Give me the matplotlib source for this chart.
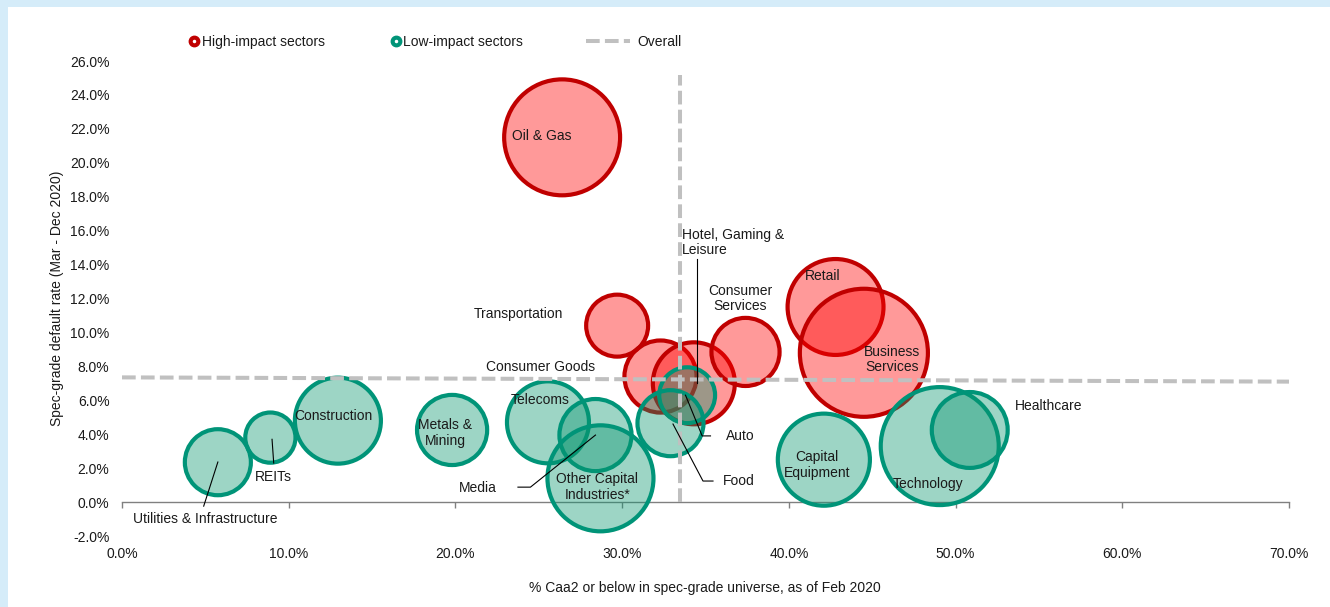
import matplotlib
matplotlib.use('Agg')
import matplotlib.pyplot as plt
from matplotlib.lines import Line2D
from matplotlib.patches import Rectangle
from matplotlib.ticker import FuncFormatter, MultipleLocator

plt.rcParams['font.family'] = ['Liberation Sans', 'DejaVu Sans']

# ---------------- data ----------------
high_sectors = ["Oil & Gas", "Transportation", "Consumer Goods", "Hotel, Gaming &\nLeisure",
                "Consumer\nServices", "Retail", "Business\nServices"]
high_caa2 = [26.4, 29.7, 32.3, 34.3, 37.4, 42.8, 44.5]
high_default = [21.5, 10.4, 7.4, 7.0, 8.85, 11.5, 8.8]
high_size = [336, 96, 130, 168, 116, 230, 410]

low_sectors = ["Auto", "Food", "Telecoms", "Media", "Other Capital\nIndustries*", "Metals &\nMining",
               "Construction", "REITs", "Utilities & Infrastructure", "Capital\nEquipment",
               "Technology", "Healthcare"]
low_caa2 = [33.9, 32.9, 25.55, 28.4, 28.7, 19.8, 12.95, 8.9, 5.75, 42.1, 49.05, 50.85]
low_default = [6.3, 4.65, 4.7, 3.95, 1.4, 4.25, 4.8, 3.8, 2.35, 2.5, 3.3, 4.25]
low_size = [78, 109, 168, 130, 281, 123, 185, 63, 109, 212, 348, 144]

overall_h_x = [0, 70]
overall_h_y = [7.35, 7.1]
overall_v_x = [33.5, 33.5]
overall_v_y = [0, 25.2]

x_ticks = [0, 10, 20, 30, 40, 50, 60, 70]
y_ticks = [-2, 0, 2, 4, 6, 8, 10, 12, 14, 16, 18, 20, 22, 24, 26]

# ---------------- layout (label placement) ----------------
label_pos = {
    "Oil & Gas": (25.2, 21.6, 'center'),
    "Transportation": (23.8, 11.1, 'center'),
    "Consumer Goods": (25.1, 7.96, 'center'),
    "Hotel, Gaming &\nLeisure": (33.6, 15.3, 'left'),
    "Consumer\nServices": (37.1, 12.0, 'center'),
    "Retail": (42.0, 13.3, 'center'),
    "Business\nServices": (46.2, 8.4, 'center'),
    "Auto": (36.2, 3.9, 'left'),
    "Food": (36.05, 1.24, 'left'),
    "Telecoms": (25.1, 6.0, 'center'),
    "Media": (21.35, 0.83, 'center'),
    "Other Capital\nIndustries*": (28.5, 0.88, 'center'),
    "Metals &\nMining": (19.4, 4.07, 'center'),
    "Construction": (12.7, 5.1, 'center'),
    "REITs": (9.06, 1.47, 'center'),
    "Utilities & Infrastructure": (4.98, -1.0, 'center'),
    "Capital\nEquipment": (41.7, 2.2, 'center'),
    "Technology": (48.35, 1.06, 'center'),
    "Healthcare": (55.6, 5.66, 'center'),
}
leader_lines = [
    ([34.5, 34.5], [14.3, 7.0]),
    ([33.8, 34.8, 35.3], [6.3, 3.9, 3.9]),
    ([33.05, 34.85, 35.45], [4.6, 1.24, 1.24]),
    ([28.4, 24.5, 23.75], [3.95, 0.88, 0.88]),
    ([9.0, 9.1], [3.7, 2.3]),
    ([5.75, 4.9], [2.36, -0.24]),
]

RED_EDGE = '#c00000'
RED_FILL = (1.0, 0.0, 0.0, 0.4)
GRN_EDGE = '#009478'
GRN_FILL = (0.04, 0.59, 0.44, 0.4)
GREY = '#c0c0c0'
TXT = '#1a1a1a'
SIZE_SCALE = 20.736

fig = plt.figure(figsize=(13.3, 6.07), dpi=100)
fig.patch.set_facecolor('#d5ecf9')
fig.patches.append(Rectangle((8 / 1330, 0), 1, 1 - 7 / 607, transform=fig.transFigure,
                             facecolor='white', edgecolor='none', zorder=-10))

ax = fig.add_axes([122 / 1330, 71 / 607, 1167 / 1330, 475 / 607])
ax.set_facecolor('none')
ax.set_xlim(0, 70)
ax.set_ylim(-2, 26)

ax.scatter(high_caa2, high_default, s=[v * SIZE_SCALE for v in high_size],
           facecolors=[RED_FILL] * len(high_size), edgecolors=RED_EDGE, linewidths=3.0, zorder=2)
ax.scatter(low_caa2, low_default, s=[v * SIZE_SCALE for v in low_size],
           facecolors=[GRN_FILL] * len(low_size), edgecolors=GRN_EDGE, linewidths=3.0, zorder=3)

dash = (3.4, 1.3)
ax.plot(overall_h_x, overall_h_y, color=GREY, lw=2.9, dashes=dash, zorder=4, solid_capstyle='butt')
ax.plot(overall_v_x, overall_v_y, color=GREY, lw=2.9, dashes=dash, zorder=4)

for xs, ys in leader_lines:
    ax.plot(xs, ys, color='black', lw=0.8, zorder=5)

for name in high_sectors + low_sectors:
    x, y, ha = label_pos[name]
    ax.text(x, y, name, ha=ha, va='center', fontsize=10, color=TXT, zorder=6, linespacing=1.15)

# axes styling
for sp in ['left', 'right', 'top']:
    ax.spines[sp].set_visible(False)
ax.spines['bottom'].set_position(('data', 0))
ax.spines['bottom'].set_color('#808080')
ax.spines['bottom'].set_linewidth(1.0)
ax.set_xticks(x_ticks)
ax.set_yticks(y_ticks)
pct = FuncFormatter(lambda v, p: f"{v:.1f}%")
ax.xaxis.set_major_formatter(pct)
ax.yaxis.set_major_formatter(pct)
ax.tick_params(axis='x', direction='out', length=4, width=1, color='#808080',
               labelsize=10, labelcolor=TXT, pad=28)
ax.tick_params(axis='y', length=0, labelsize=10, labelcolor=TXT, pad=9)

fig.text(57 / 1330, 1 - 298 / 607, "Spec-grade default rate (Mar - Dec 2020)", rotation=90,
         ha='center', va='center', fontsize=10, color=TXT)
fig.text(705 / 1330, 1 - 588 / 607, "% Caa2 or below in spec-grade universe, as of Feb 2020",
         ha='center', va='center', fontsize=10, color=TXT)

# legends
def dot_handle(col):
    return (Line2D([], [], marker='o', linestyle='none', markersize=7.5,
                   markerfacecolor=col, markeredgecolor=col),
            Line2D([], [], marker='o', linestyle='none', markersize=1.5,
                   markerfacecolor='white', markeredgecolor='white'))

ly = 1 - 42 / 607
leg1 = fig.legend([dot_handle(RED_EDGE)], ["High-impact sectors"], loc='center left',
                  bbox_to_anchor=(189 / 1330, ly), frameon=False, fontsize=10,
                  handlelength=0.7, handletextpad=0.2, borderpad=0, borderaxespad=0)
leg2 = fig.legend([dot_handle(GRN_EDGE)], ["Low-impact sectors"], loc='center left',
                  bbox_to_anchor=(391 / 1330, ly), frameon=False, fontsize=10,
                  handlelength=0.7, handletextpad=0.2, borderpad=0, borderaxespad=0)
leg3 = fig.legend([Line2D([], [], color=GREY, lw=2.9, dashes=dash)], ["Overall"], loc='center left',
                  bbox_to_anchor=(586 / 1330, ly), frameon=False, fontsize=10,
                  handlelength=3.2, handletextpad=0.5, borderpad=0, borderaxespad=0)
for lg in (leg1, leg2, leg3):
    for t in lg.get_texts():
        t.set_color(TXT)

fig.savefig('out.png', dpi=100, facecolor=fig.get_facecolor())
